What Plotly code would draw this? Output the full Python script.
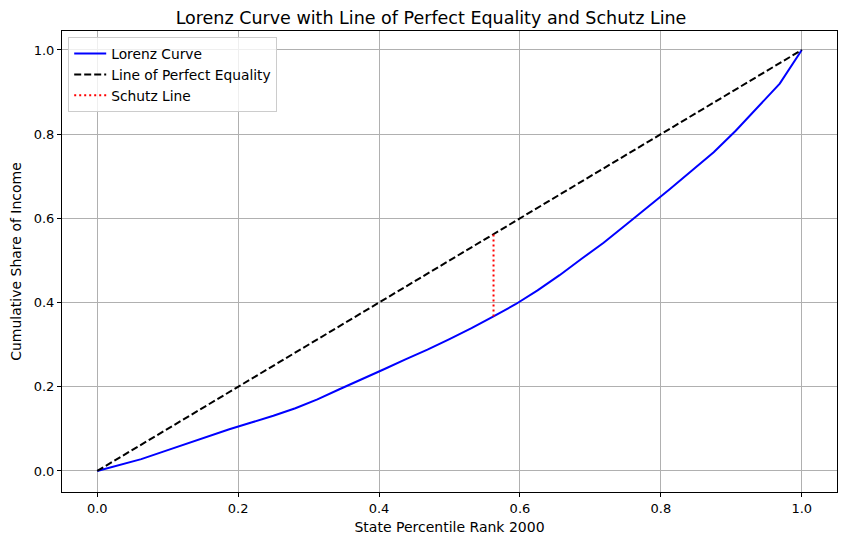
import plotly.graph_objects as go

# Data
rank = [k / 32 for k in range(33)]
lorenz = [0.0, 0.014, 0.028, 0.046, 0.064, 0.082, 0.099, 0.115, 0.131, 0.149,
          0.170, 0.194, 0.217, 0.241, 0.265, 0.288, 0.313, 0.339, 0.367, 0.396,
          0.429, 0.465, 0.504, 0.542, 0.584, 0.626, 0.669, 0.713, 0.757, 0.808,
          0.863, 0.920, 1.0]
equality_x = [0, 1]
equality_y = [0, 1]
schutz_x = [0.5625, 0.5625]
schutz_y = [0.367, 0.5625]
tick_vals = [0.0, 0.2, 0.4, 0.6, 0.8, 1.0]
tick_text = ["0.0", "0.2", "0.4", "0.6", "0.8", "1.0"]

fig = go.Figure()
fig.add_trace(go.Scatter(x=rank, y=lorenz, mode="lines", name="Lorenz Curve",
                         line=dict(color="blue", width=2)))
fig.add_trace(go.Scatter(x=equality_x, y=equality_y, mode="lines", name="Line of Perfect Equality",
                         line=dict(color="black", width=2, dash="7px,3px")))
fig.add_trace(go.Scatter(x=schutz_x, y=schutz_y, mode="lines", name="Schutz Line",
                         line=dict(color="red", width=2, dash="2px,3px")))

axis_common = dict(showgrid=True, gridcolor="#b0b0b0", gridwidth=1, zeroline=False,
                   showline=True, linecolor="black", linewidth=1, mirror=True,
                   ticks="outside", ticklen=4, tickcolor="black",
                   tickfont=dict(size=13, color="black"), automargin=False,
                   tickvals=tick_vals, ticktext=tick_text)

fig.update_layout(
    width=846, height=545,
    margin=dict(l=54, r=17, t=23, b=61),
    paper_bgcolor="white", plot_bgcolor="white",
    font=dict(family="DejaVu Sans", color="black"),
    title=dict(text="Lorenz Curve with Line of Perfect Equality and Schutz Line",
               x=0.5, xanchor="center", y=0.982, yanchor="middle",
               font=dict(size=17.5, color="black")),
    xaxis=dict(range=[-0.05, 1.05], title=dict(text="State Percentile Rank 2000",
                                                font=dict(size=14), standoff=7),
               **axis_common),
    yaxis=dict(range=[-0.05, 1.045], title=dict(text="Cumulative Share of Income",
                                                 font=dict(size=14), standoff=9),
               **axis_common),
    legend=dict(x=0.008, y=0.987, xanchor="left", yanchor="top",
                bgcolor="rgba(255,255,255,0.8)", bordercolor="#cccccc", borderwidth=1,
                font=dict(size=13.8), tracegroupgap=0, itemwidth=32),
    showlegend=True,
)

fig.write_html("out.html")
